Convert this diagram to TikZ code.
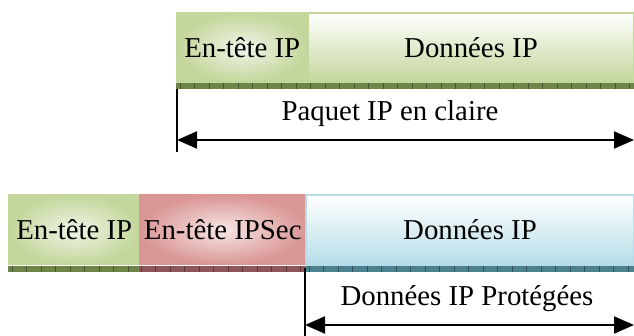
\documentclass[tikz,border=0pt]{standalone}
\usepackage{fontspec}
\setmainfont{Liberation Serif}
\usetikzlibrary{arrows.meta}
\definecolor{gfill}{HTML}{C3D69B}
\definecolor{glight}{HTML}{F0F5E8}
\definecolor{gdark}{HTML}{6E8548}
\definecolor{rfill}{HTML}{D99694}
\definecolor{rlight}{HTML}{F7E6E6}
\definecolor{rdark}{HTML}{8E5656}
\definecolor{bfill}{HTML}{B7DDE8}
\definecolor{bdark}{HTML}{4F8290}
\tikzset{
  lbl/.style={font=\fontsize{28.8}{32}\selectfont},
  hdrbox/.style 2 args={rectangle, anchor=north west, draw=#1, line width=1.5pt,
    inner color=#2, outer color=#1, inner sep=0pt, minimum height=70pt, lbl},
  databox/.style={rectangle, anchor=north west, draw=#1, line width=2pt,
    top color=white, bottom color=#1, inner sep=0pt, minimum height=70pt, lbl},
  barbox/.style={rectangle, anchor=north west, fill=#1, inner sep=0pt, minimum height=6pt},
  tickln/.style={draw=#1!65!black, line width=0.8pt},
  vline/.style={draw=black, line width=1.5pt},
  dim/.style={draw=black, line width=2pt, {Triangle[length=20pt,width=17pt]}-{Triangle[length=20pt,width=17pt]}}
}
\begin{document}
\begin{tikzpicture}[x=1pt,y=-1pt]
\useasboundingbox (0,0) rectangle (634,336);
% top packet
\node[hdrbox={gfill}{glight}, minimum width=131pt] (h1) at (176,12) {En-tête IP};
\node[databox=gfill, minimum width=326pt] (d1) at (307,12) {Données IP};
\node[barbox=gdark, minimum width=458pt] (b1) at (176,83) {};
\foreach \i in {0,...,31} \draw[tickln=gdark] ([xshift=\i*14.5pt+4pt]b1.north west) -- ++(0,6);
\coordinate (v1t) at (177,89);
\coordinate (v1b) at (177,152);
\coordinate (a1l) at (177,140);
\coordinate (a1r) at (634,140);
\draw[vline] (v1t) -- (v1b);
\draw[dim] (a1l) -- (a1r);
\node[lbl] (t1) at (390,114) {Paquet IP en claire};
% bottom packet
\node[hdrbox={gfill}{glight}, minimum width=131pt] (h2) at (8,194) {En-tête IP};
\node[hdrbox={rfill}{rlight}, minimum width=166pt] (s2) at (139,194) {En-tête IPSec};
\node[databox=bfill, minimum width=328pt] (d2) at (305,194) {Données IP};
\node[barbox=gdark, minimum width=131pt] (b2g) at (8,266) {};
\node[barbox=rdark, minimum width=166pt] (b2r) at (139,266) {};
\node[barbox=bdark, minimum width=329pt] (b2b) at (305,266) {};
\foreach \i in {0,...,8} \draw[tickln=gdark] ([xshift=\i*14.5pt+4pt]b2g.north west) -- ++(0,6);
\foreach \i in {0,...,11} \draw[tickln=rdark] ([xshift=\i*14.5pt+2pt]b2r.north west) -- ++(0,6);
\foreach \i in {0,...,22} \draw[tickln=bdark] ([xshift=\i*14.5pt+4pt]b2b.north west) -- ++(0,6);
\coordinate (v2t) at (305,268);
\coordinate (v2b) at (305,336);
\coordinate (a2l) at (305,325);
\coordinate (a2r) at (634,325);
\draw[vline] (v2t) -- (v2b);
\draw[dim] (a2l) -- (a2r);
\node[lbl] (t2) at (467,299) {Données IP Protégées};
\end{tikzpicture}
\end{document}
